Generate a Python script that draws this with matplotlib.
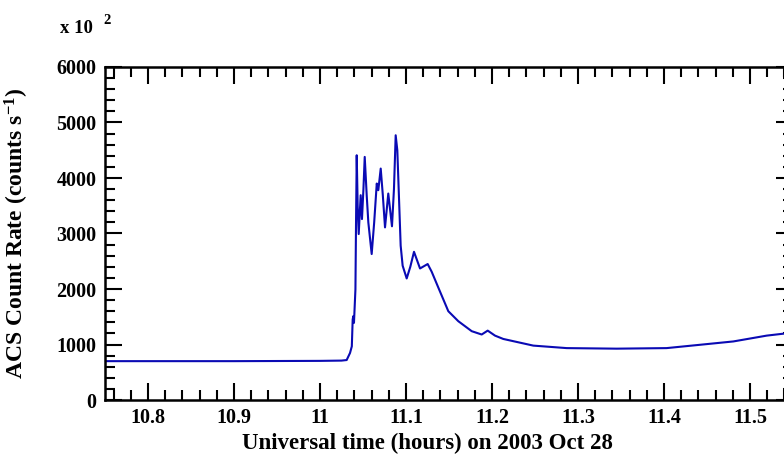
import numpy as np
import matplotlib
matplotlib.use('Agg')
from matplotlib import pyplot as plt
from matplotlib.ticker import MultipleLocator

# Time (UT hours) and ACS count rate
time_hours = [10.75, 10.80, 10.90, 11.00, 11.025, 11.031, 11.0349, 11.037,
              11.038, 11.0387, 11.0395, 11.0412, 11.0419, 11.0427, 11.0438,
              11.0450, 11.0473, 11.0488, 11.0505, 11.0520, 11.0543, 11.0562,
              11.0601, 11.0630, 11.0660, 11.0678, 11.0706, 11.0730, 11.0756,
              11.0794, 11.0837, 11.0860, 11.0880, 11.0899, 11.0938, 11.0961,
              11.1008, 11.1050, 11.1093, 11.1163, 11.1252, 11.1299, 11.1376,
              11.1492, 11.1608, 11.1764, 11.1880, 11.1950, 11.2035, 11.2131,
              11.2480, 11.2869, 11.3450, 11.4030, 11.4419, 11.4806, 11.5194,
              11.5500]
count_rate = [700, 700, 700, 705, 710, 720, 847, 967,
              1450, 1510, 1390, 1994, 3200, 4410, 3500,
              2990, 3690, 3260, 3800, 4380, 3690, 3200,
              2630, 3200, 3900, 3780, 4170, 3700, 3110,
              3720, 3130, 3800, 4770, 4500, 2780, 2420,
              2190, 2400, 2670, 2370, 2450, 2310, 2025,
              1600, 1420, 1240, 1180, 1250, 1160, 1100,
              980, 935, 925, 935, 995, 1055, 1160,
              1215]

plt.rcParams['font.family'] = ['Liberation Serif', 'DejaVu Serif']
plt.rcParams['font.weight'] = 'bold'
plt.rcParams['mathtext.fontset'] = 'custom'
plt.rcParams['mathtext.rm'] = 'Liberation Serif:bold'
plt.rcParams['mathtext.bf'] = 'Liberation Serif:bold'
plt.rcParams['mathtext.default'] = 'rm'

fig = plt.figure(figsize=(7.84, 4.61), dpi=100)
W, H = 784.0, 461.0
ax = fig.add_axes([105 / W, 1 - 400 / H, 688 / W, 333 / H])

ax.plot(time_hours, count_rate, color='#0a0ab4', linewidth=1.5)

ax.set_xlim(10.75, 11.55)
ax.set_ylim(0, 6000)
ax.xaxis.set_minor_locator(MultipleLocator(0.02))
ax.yaxis.set_major_locator(MultipleLocator(1000))
ax.yaxis.set_minor_locator(MultipleLocator(200))
ax.set_xticks(np.arange(10.8, 11.51, 0.1))
ax.set_xticklabels(['10.8', '10.9', '11', '11.1', '11.2', '11.3', '11.4', '11.5'])

ax.tick_params(which='both', direction='in', top=True, right=True,
               width=1.5, labelsize=14.5)
ax.tick_params(which='major', length=12, pad=6)
ax.tick_params(which='minor', length=7)
for lab in ax.get_xticklabels() + ax.get_yticklabels():
    lab.set_fontweight('bold')
for s in ax.spines.values():
    s.set_linewidth(1.8)

ax.set_xlabel('Universal time (hours) on 2003 Oct 28', fontsize=16.5,
              fontweight='bold')
ax.xaxis.set_label_coords((427 - 105) / 688, -0.1)
ax.set_ylabel(r'ACS Count Rate (counts s$^{\mathrm{-1}}$)', fontsize=17,
              fontweight='bold')
ax.yaxis.set_label_coords(-0.108, 0.5)

fig.text(60 / W, 1 - 33 / H, 'x 10', fontsize=13.5, fontweight='bold',
         ha='left', va='baseline')
fig.text(103 / W, 1 - 24 / H, '2', fontsize=10.5, fontweight='bold',
         ha='left', va='baseline')

fig.savefig('out.png', dpi=100)
